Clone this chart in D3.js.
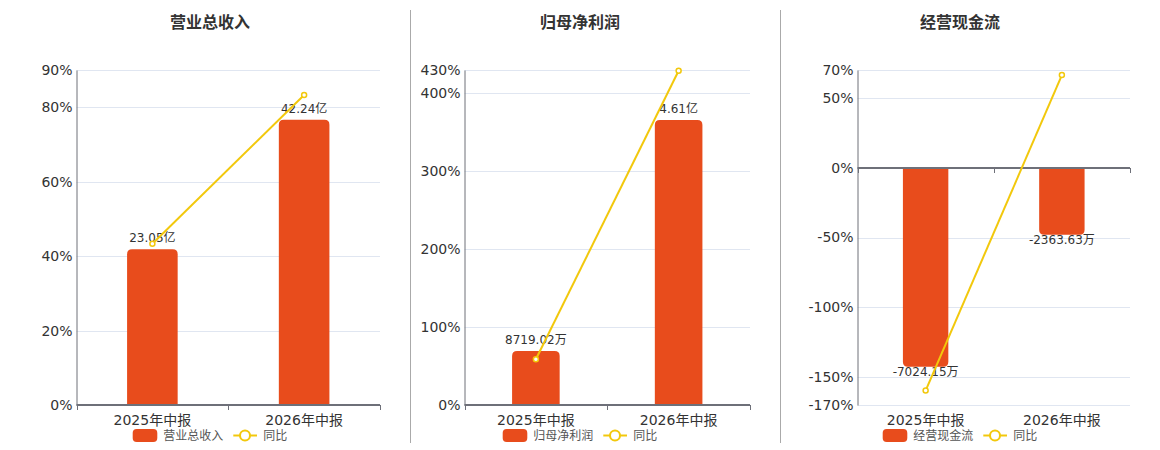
<!DOCTYPE html>
<html>
<head>
<meta charset="utf-8">
<script src="https://cdn.jsdelivr.net/npm/d3@7/dist/d3.min.js"></script>
<style>
  html, body { margin: 0; padding: 0; background: #fff; }
  svg { display: block; font-family: "DejaVu Sans", "Noto Sans CJK SC", sans-serif; }
</style>
</head>
<body>
<svg id="chart" width="1160" height="450"></svg>
<script>
// ---- data ----
const categories = ["2025年中报", "2026年中报"];
const titles = ["营业总收入", "归母净利润", "经营现金流"];
const barSeriesNames = ["营业总收入", "归母净利润", "经营现金流"];
const lineSeriesName = "同比";

const revenueValues = [23.05, 42.24];            // 亿
const revenueLabels = ["23.05亿", "42.24亿"];
const revenueYoY = [43.3, 83.3];                 // %
const revenueTicks = [0, 20, 40, 60, 80, 90];

const profitValues = [0.871902, 4.61];           // 亿
const profitLabels = ["8719.02万", "4.61亿"];
const profitYoY = [58.7, 429];
const profitTicks = [0, 100, 200, 300, 400, 430];

const cashValues = [-7024.15, -2363.63];         // 万
const cashLabels = ["-7024.15万", "-2363.63万"];
const cashYoY = [-159.7, 66.4];
const cashTicks = [-170, -150, -100, -50, 0, 50, 70];

// hidden bar-axis extents (value units)
const revenueBarDomain = [0, 49.6];
const profitBarDomain = [0, 5.42];
const cashBarDomain = [-8376, 3449];

const panels = [
  { title: titles[0], name: barSeriesNames[0], values: revenueValues, labels: revenueLabels, yoy: revenueYoY, ticks: revenueTicks, barDomain: revenueBarDomain, x0: 76.5, x1: 380, cx: 210 },
  { title: titles[1], name: barSeriesNames[1], values: profitValues, labels: profitLabels, yoy: profitYoY, ticks: profitTicks, barDomain: profitBarDomain, x0: 464.5, x1: 750, cx: 580 },
  { title: titles[2], name: barSeriesNames[2], values: cashValues, labels: cashLabels, yoy: cashYoY, ticks: cashTicks, barDomain: cashBarDomain, x0: 857.5, x1: 1130, cx: 960 }
];

const BAR = "#e84c1c", LINE = "#f2c80c", AXIS = "#6e7079", GRID = "#e0e6f1", TXT = "#333";
const plotTop = 70, plotBottom = 405;
const svg = d3.select("#chart");

// separators
[410.5, 780.5].forEach(x => {
  svg.append("line").attr("x1", x).attr("x2", x).attr("y1", 10).attr("y2", 443)
    .attr("stroke", "#aaa").attr("stroke-width", 1);
});

function barPath(x, w, y0, y1, r) {
  const h = Math.abs(y1 - y0);
  r = Math.min(r, h, w / 2);
  if (y1 < y0) {
    return `M${x},${y0}V${y1 + r}Q${x},${y1} ${x + r},${y1}H${x + w - r}Q${x + w},${y1} ${x + w},${y1 + r}V${y0}Z`;
  } else {
    return `M${x},${y0}V${y1 - r}Q${x},${y1} ${x + r},${y1}H${x + w - r}Q${x + w},${y1} ${x + w},${y1 - r}V${y0}Z`;
  }
}

panels.forEach(p => {
  const g = svg.append("g");
  const ext = d3.extent(p.ticks);
  const y = d3.scaleLinear().domain(ext).range([plotBottom, plotTop]);
  const yb = d3.scaleLinear().domain(p.barDomain).range([plotBottom, plotTop]);
  const x = d3.scaleBand().domain(categories).range([p.x0, p.x1]).padding(0);
  const bw = x.bandwidth() / 3;

  // title
  g.append("text").attr("x", p.cx).attr("y", 22).attr("text-anchor", "middle")
    .attr("dominant-baseline", "central").attr("font-size", 16).attr("font-weight", "bold")
    .attr("fill", TXT).text(p.title);

  // grid lines
  g.selectAll(".grid").data(p.ticks.filter(t => t !== 0 || ext[0] < 0)).enter().append("line")
    .attr("x1", p.x0).attr("x2", p.x1)
    .attr("y1", d => Math.round(y(d)) + 0.5).attr("y2", d => Math.round(y(d)) + 0.5)
    .attr("stroke", GRID).attr("stroke-width", 1);

  // y axis
  const yAxis = d3.axisLeft(y).tickValues(p.ticks).tickSize(0).tickPadding(4).tickFormat(d => d + "%");
  const ya = g.append("g").attr("transform", `translate(${p.x0},0)`).call(yAxis);
  ya.select(".domain").attr("stroke", AXIS).attr("stroke-width", 1);
  ya.selectAll("text").attr("font-size", 14).attr("fill", TXT);
  ya.attr("font-family", null);

  // bars
  const y0 = y(0);
  const bScale = v => y0 - (yb(0) - yb(v));
  g.selectAll(".bar").data(p.values).enter().append("path")
    .attr("d", (d, i) => barPath(x(categories[i]) + (x.bandwidth() - bw) / 2, bw, y0, bScale(d), 5))
    .attr("fill", BAR);

  // x axis line at zero
  const xAxis = d3.axisBottom(x).tickSize(0).tickFormat("");
  const xa = g.append("g").attr("transform", `translate(0,${Math.round(y0)})`).call(xAxis);
  xa.select(".domain").attr("stroke", AXIS).attr("stroke-width", 2).attr("d", `M${p.x0},0H${p.x1}`);
  xa.selectAll(".tick").remove();
  const bounds = [p.x0].concat(categories.map(c => x(c) + x.bandwidth()));
  g.selectAll(".xt").data(bounds).enter().append("line")
    .attr("x1", d => Math.round(d) + 0.5).attr("x2", d => Math.round(d) + 0.5)
    .attr("y1", Math.round(y0)).attr("y2", Math.round(y0) + 5)
    .attr("stroke", AXIS).attr("stroke-width", 1);

  // category labels at bottom
  g.selectAll(".cat").data(categories).enter().append("text")
    .attr("x", d => x(d) + x.bandwidth() / 2).attr("y", 420)
    .attr("text-anchor", "middle").attr("dominant-baseline", "central")
    .attr("font-size", 14).attr("fill", TXT).text(d => d);

  // bar value labels
  g.selectAll(".vl").data(p.values).enter().append("text")
    .attr("x", (d, i) => x(categories[i]) + x.bandwidth() / 2)
    .attr("y", d => d >= 0 ? bScale(d) - 11 : bScale(d) + 5)
    .attr("text-anchor", "middle").attr("dominant-baseline", "central")
    .attr("font-size", 12).attr("fill", TXT).text((d, i) => p.labels[i]);

  // yoy line
  const line = d3.line().x((d, i) => x(categories[i]) + x.bandwidth() / 2).y(d => y(d));
  g.append("path").datum(p.yoy).attr("d", line).attr("fill", "none")
    .attr("stroke", LINE).attr("stroke-width", 2);
  g.selectAll(".pt").data(p.yoy).enter().append("circle")
    .attr("cx", (d, i) => x(categories[i]) + x.bandwidth() / 2).attr("cy", d => y(d))
    .attr("r", 2.5).attr("fill", "#fff").attr("stroke", LINE).attr("stroke-width", 1.5);

  // legend
  const ly = 435.5;
  g.append("rect").attr("x", p.cx - 77.3).attr("y", ly - 6.5).attr("width", 24.6).attr("height", 13)
    .attr("rx", 4).attr("fill", BAR);
  g.append("text").attr("x", p.cx - 46.7).attr("y", ly).attr("dominant-baseline", "central")
    .attr("font-size", 12).attr("fill", "#555").text(p.name);
  g.append("line").attr("x1", p.cx + 23.3).attr("x2", p.cx + 47).attr("y1", ly).attr("y2", ly)
    .attr("stroke", LINE).attr("stroke-width", 2);
  g.append("circle").attr("cx", p.cx + 35).attr("cy", ly).attr("r", 5)
    .attr("fill", "#fff").attr("stroke", LINE).attr("stroke-width", 2);
  g.append("text").attr("x", p.cx + 53.3).attr("y", ly).attr("dominant-baseline", "central")
    .attr("font-size", 12).attr("fill", "#555").text(lineSeriesName);
});
</script>
</body>
</html>
